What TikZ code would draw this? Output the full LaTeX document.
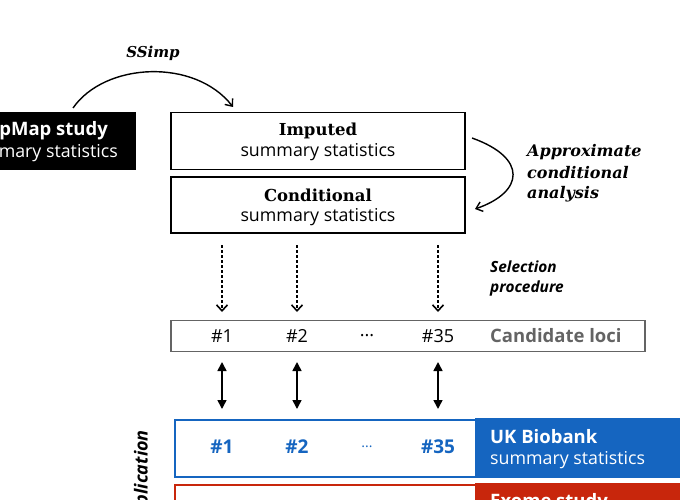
\documentclass[tikz,border=0pt]{standalone}
\usepackage{fontspec}
\setmainfont{Open Sans}
\newfontfamily\slab{DejaVu Serif}
\usetikzlibrary{arrows.meta}
\definecolor{ukblue}{RGB}{21,101,192}
\definecolor{exred}{RGB}{200,38,12}
\definecolor{locigray}{RGB}{100,100,100}
\begin{document}
\begin{tikzpicture}[x=1pt,y=-1pt,
  sumbox/.style={draw=black, line width=1.8pt, minimum width=294pt, minimum height=57pt, inner sep=0pt},
  slabtitle/.style={font=\slab\bfseries\fontsize{16.5}{19}\selectfont, inner sep=0pt},
  slabit/.style={font=\slab\bfseries\itshape\fontsize{16}{19}\selectfont, inner sep=0pt},
  light/.style={font=\fontsize{17.8}{20}\selectfont, inner sep=0pt},
  sansbold/.style={font=\bfseries\fontsize{18.5}{21}\selectfont, inner sep=0pt},
  sansbit/.style={font=\bfseries\itshape\fontsize{15.4}{18}\selectfont, inner sep=0pt, anchor=west},
  curvearrow/.style={-{Straight Barb[length=6pt,width=10pt]}, line width=1.4pt},
  selarrow/.style={dash pattern=on 2.5pt off 2.5pt, line width=1.6pt, -{Straight Barb[length=6pt,width=11pt]}},
  dblarrow/.style={{Triangle[length=9pt,width=9pt]}-{Triangle[length=9pt,width=9pt]}, line width=1.6pt},
  idx/.style={font=\fontsize{18}{21}\selectfont, inner sep=0pt},
  bidx/.style={font=\bfseries\fontsize{19}{22}\selectfont, text=ukblue, inner sep=0pt}
]
\useasboundingbox (0,0) rectangle (680,500);
\clip (0,0) rectangle (680,500);

% HapMap box (cropped)
\node[fill=black, minimum width=170pt, minimum height=58pt, anchor=north east, inner sep=0pt] (hap) at (136,112) {};
\node[sansbold, text=white, anchor=east] (haptitle) at (108,131) {pMap study};
\node[light, text=white, anchor=east] (hapsub) at (118,153) {mary statistics};

% Imputed / Conditional boxes
\node[sumbox] (imp) at (318,141) {};
\node[slabtitle] (imptitle) at (318,131) {Imputed};
\node[light] (impsub) at (318,152) {summary statistics};
\node[sumbox, minimum height=56pt] (cond) at (318,205) {};
\node[slabtitle] (condtitle) at (318,195) {Conditional};
\node[light] (condsub) at (318,217) {summary statistics};

% SSimp arrow
\node[slabit, font=\slab\bfseries\itshape\fontsize{15}{18}\selectfont] (ssimp) at (153,53) {SSimp};
\coordinate (ssA) at (73,108);
\coordinate (ssB) at (233,107);
\draw[curvearrow] (ssA) .. controls (105,62) and (195,58) .. (ssB);

% Approximate conditional analysis
\coordinate (acA) at (472,138);
\coordinate (acB) at (475,209);
\draw[curvearrow] (acA) .. controls (528,158) and (524,192) .. (acB);
\node[slabit, anchor=west] (ac1) at (527,152) {Approximate};
\node[slabit, anchor=west] (ac2) at (527,173) {conditional};
\node[slabit, anchor=west] (ac3) at (527,194) {analysis};

% Selection procedure
\node[sansbit] (sel1) at (490,267) {Selection};
\node[sansbit] (sel2) at (490,288) {procedure};

% Candidate loci box
\node[draw=locigray, line width=1.8pt, minimum width=474pt, minimum height=31pt, inner sep=0pt] (cand) at (408,336) {};
\node[idx] (c1) at (222,336) {\#1};
\node[idx] (c2) at (297,336) {\#2};
\node[idx] (cd) at (367,336) {...};
\node[idx] (c35) at (438,336) {\#35};
\node[sansbold, text=locigray, anchor=west] (candlab) at (490,336) {Candidate loci};

% dotted selection arrows and double arrows
\foreach \x/\n in {222/1,297/2,438/35}{
  \coordinate (st\n) at (\x,245);
  \coordinate (se\n) at (\x,312);
  \draw[selarrow] (st\n) -- (se\n);
  \coordinate (dt\n) at (\x,362);
  \coordinate (de\n) at (\x,409);
  \draw[dblarrow] (dt\n) -- (de\n);
}

% UK Biobank row
\node[fill=ukblue, minimum width=220pt, minimum height=58pt, anchor=north west, inner sep=0pt] (ukfill) at (475,418) {};
\node[draw=ukblue, line width=1.8pt, minimum width=520pt, minimum height=57pt, anchor=north west, inner sep=0pt] (uk) at (174,419) {};
\node[bidx] (u1) at (222,447) {\#1};
\node[bidx] (u2) at (297,447) {\#2};
\node[idx, text=ukblue, font=\fontsize{14}{16}\selectfont] (ud) at (367,447) {...};
\node[bidx] (u35) at (438,447) {\#35};
\node[sansbold, text=white, anchor=west] (uktitle) at (490,437) {UK Biobank};
\node[light, text=white, anchor=west] (uksub) at (490,460) {summary statistics};

% Exome row (cropped)
\node[fill=exred, minimum width=220pt, minimum height=58pt, anchor=north west, inner sep=0pt] (exfill) at (475,483) {};
\node[draw=exred, line width=1.8pt, minimum width=520pt, minimum height=57pt, anchor=north west, inner sep=0pt] (ex) at (174,484) {};
\node[sansbold, text=white, anchor=west] (extitle) at (490,503) {Exome study};

% Replication label
\node[font=\bfseries\itshape\fontsize{18}{21}\selectfont, rotate=90, anchor=east, inner sep=0pt] (repl) at (143,430) {Replication};
\end{tikzpicture}
\end{document}
